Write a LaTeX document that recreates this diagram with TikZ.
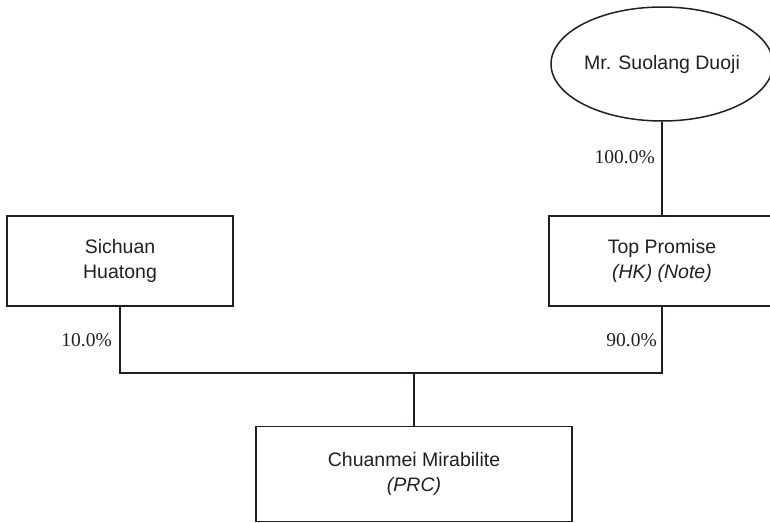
\documentclass[tikz,border=0pt]{standalone}
\usepackage{fontspec}
\setmainfont{Liberation Serif}
\newfontfamily\arialf{Liberation Sans}
\usetikzlibrary{shapes.geometric}
\definecolor{ink}{RGB}{35,31,32}
\begin{document}
\begin{tikzpicture}[x=1pt,y=-1pt,
  every node/.style={text=ink},
  ent/.style={draw=ink, line width=1.5pt, rectangle, inner sep=0pt, align=center,
    font=\arialf\fontsize{19.5}{25}\selectfont},
  person/.style={draw=ink, line width=1.5pt, ellipse, inner sep=0pt, align=center,
    minimum width=222, minimum height=114, font=\arialf\fontsize{19.5}{25}\selectfont},
  pct/.style={font=\fontsize{19.5}{23}\selectfont, inner sep=0pt, anchor=base east},
  conn/.style={draw=ink, line width=1.5pt}]
\useasboundingbox (0,0) rectangle (770,522);
\node[person] (suo) at (662,64) {Mr. Suolang Duoji};
\node[ent, minimum width=226, minimum height=90] (sich) at (120,261) {Sichuan\\Huatong};
\node[ent, minimum width=226, minimum height=90] (top) at (662,261) {Top Promise\\\textit{(HK) (Note)}};
\node[ent, minimum width=316, minimum height=95] (prc) at (414,474) {Chuanmei Mirabilite\\\textit{(PRC)}};
\coordinate (bar) at (414,373);
\draw[conn] (suo.south) -- (top.north);
\draw[conn] (sich.south) |- (bar) -| (top.south);
\draw[conn] (bar) -- (prc.north);
\node[pct] (p100) at (655,163.3) {100.0\%};
\node[pct] (p10) at (112,346.5) {10.0\%};
\node[pct] (p90) at (657,346.5) {90.0\%};
\end{tikzpicture}
\end{document}
